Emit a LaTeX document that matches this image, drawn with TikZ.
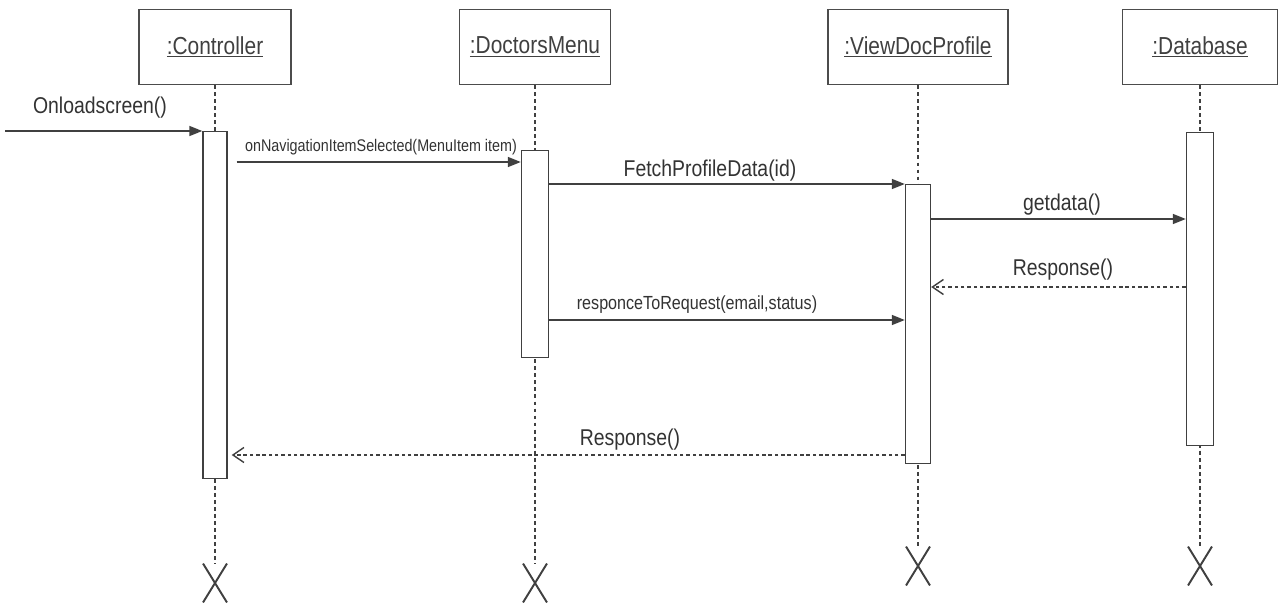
\documentclass[tikz,border=0pt]{standalone}
\usepackage{fontspec}
\newfontfamily\umlfont{Liberation Sans}[FakeStretch=0.85]
\usetikzlibrary{arrows.meta, calc, positioning, shapes.misc}

\begin{document}
\begin{tikzpicture}[x=0.2mm,y=-0.2mm,
    head/.style={draw=black!70,line width=0.8pt,fill=white,minimum height=15mm,inner sep=0pt,
        text=black!75,font=\umlfont\fontsize{14}{16}\selectfont},
    bar/.style={draw=black!75,line width=0.8pt,fill=white,minimum width=5mm,inner sep=0pt,anchor=north},
    life/.style={black!75,line width=0.7pt,dash pattern=on 2.2pt off 1.8pt},
    call/.style={black!75,line width=0.9pt,-{Triangle[length=2.6mm,width=2mm]}},
    reply/.style={black!75,line width=0.8pt,dash pattern=on 2pt off 1.6pt,
        -{Straight Barb[length=2.2mm,width=3mm,line width=0.8pt]}},
    lbl/.style={text=black!80,font=\umlfont\fontsize{13}{15}\selectfont,inner sep=0pt},
    endx/.style={cross out,draw=black!75,line width=1.1pt,minimum width=4.4mm,minimum height=7.4mm,inner sep=0pt}]

\useasboundingbox[fill=white] (0,0) rectangle (1284,604);

%
\node[head,minimum width=30.4mm] (ctrl) at (215,47) {\underline{:Controller}};
\node[head,minimum width=30.2mm] (menu) at (535,47) {\underline{:DoctorsMenu}};
\node[head,minimum width=36mm] (view) at (918,47) {\underline{:ViewDocProfile}};
\node[head,minimum width=31mm] (db) at (1200,47) {\underline{:Database}};

%
\node[endx] (ctrl-end) at (215,583) {};
\node[endx] (menu-end) at (535,583) {};
\node[endx] (view-end) at (918,566) {};
\node[endx] (db-end) at (1200,566) {};

%
\draw[life] (ctrl.south) -- (ctrl-end.north);
\draw[life] (menu.south) -- (menu-end.north);
\draw[life] (view.south) -- (view-end.north);
\draw[life] (db.south) -- (db-end.north);

%
\node[bar,minimum width=4.8mm,minimum height=69.4mm] (ctrl-bar) at (215,131) {};
\node[bar,minimum width=5.4mm,minimum height=41.4mm] (menu-bar) at (535,150) {};
\node[bar,minimum height=55.8mm] (view-bar) at (918,184) {};
\node[bar,minimum width=5.4mm,minimum height=62.6mm] (db-bar) at (1200,132) {};

%
\coordinate (start) at (5,131);
\coordinate (r2) at (0,162);
\coordinate (r4) at (0,219);
\coordinate (r5) at (0,287);
\coordinate (r6) at (0,320);
\coordinate (r7) at (0,455);

%
\draw[call] (start) -- (ctrl-bar.north west);
\node[lbl] (m1) at (100,108) {Onloadscreen()};

\draw[call] ([xshift=1.8mm]ctrl-bar.east |- r2) -- (menu-bar.west |- r2);
\node[lbl,font=\umlfont\fontsize{9.6}{11}\selectfont] (m2) at (381,147) {onNavigationItemSelected(MenuItem item)};

\draw[call] (menu-bar.east |- view-bar.north) -- (view-bar.north west);
\node[lbl] (m3) at (710,171) {FetchProfileData(id)};

\draw[call] (view-bar.east |- r4) -- (db-bar.west |- r4);
\node[lbl] (m4) at (1062,205) {getdata()};

\draw[reply] (db-bar.west |- r5) -- (view-bar.east |- r5);
\node[lbl] (m5) at (1063,270) {Response()};

\draw[call] (menu-bar.east |- r6) -- (view-bar.west |- r6);
\node[lbl,font=\umlfont\fontsize{10.8}{12}\selectfont] (m6) at (697,305) {responceToRequest(email,status)};

\draw[reply] (view-bar.west |- r7) -- ([xshift=0.8mm]ctrl-bar.east |- r7);
\node[lbl] (m7) at (630,440) {Response()};
\end{tikzpicture}
\end{document}
